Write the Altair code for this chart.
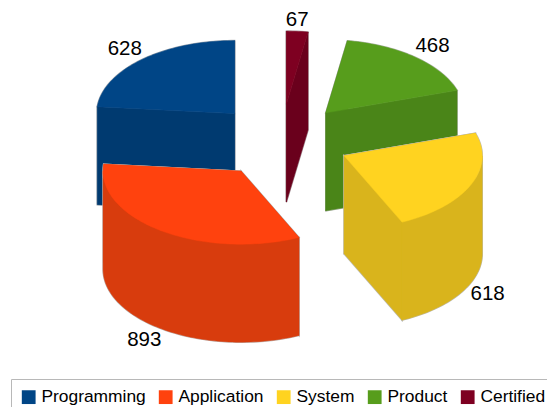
import math
import altair as alt

categories = ["Programming", "Application", "System", "Product", "Certified"]
values = [628, 893, 618, 468, 67]
top_colors = ["#004586", "#ff420e", "#ffd320", "#579d1c", "#7e0021"]
side_colors = ["#003a70", "#d83c0d", "#d9b41c", "#4a8518", "#6a001c"]
draw_order = ["Programming", "Certified", "Product", "Application", "System"]

# layout of the tilted pie, in chart pixels
CX, CY = 273, 133
RX, RY = 138, 73
EX, EY = 69, 37
DEPTH = 98
OUTLINE = "#bdbdbd"

total = sum(values)
slices = {}
angle = 90.0
for name, value, top, side in zip(categories, values, top_colors, side_colors):
    sweep = 360.0 * value / total
    slices[name] = dict(name=name, value=value, top=top, side=side, a0=angle, a1=angle + sweep)
    angle += sweep


def rim(ax, ay, deg):
    r = math.radians(deg)
    return (ax + RX * math.cos(r), ay - RY * math.sin(r))


def arc(ax, ay, a0, a1, dy=0):
    n = max(2, int(abs(a1 - a0) / 1.5) + 1)
    pts = []
    for i in range(n + 1):
        x, y = rim(ax, ay, a0 + (a1 - a0) * i / n)
        pts.append((x, y + dy))
    return pts


def faces(s):
    mid = math.radians((s["a0"] + s["a1"]) / 2)
    ax = CX + EX * math.cos(mid)
    ay = CY - EY * math.sin(mid)
    out = []
    for a in (s["a1"], s["a0"]):
        x, y = rim(ax, ay, a)
        out.append(([(ax, ay), (x, y), (x, y + DEPTH), (ax, ay + DEPTH)], s["side"]))
    lo, hi = max(s["a0"], 180.0), min(s["a1"], 360.0)
    if hi > lo:
        out.append((arc(ax, ay, lo, hi) + arc(ax, ay, hi, lo, DEPTH), s["side"]))
    out.append(([(ax, ay)] + arc(ax, ay, s["a0"], s["a1"]), s["top"]))
    return out, ax, ay, mid


features = []
labels = []
for name in draw_order:
    s = slices[name]
    fs, ax, ay, mid = faces(s)
    for stroke_pass in (True, False):
        for pts, color in fs:
            ring = [[round(x, 2), round(y, 2)] for x, y in pts]
            ring.append(ring[0])
            features.append({
                "type": "Feature",
                "geometry": {"type": "Polygon", "coordinates": [ring]},
                "properties": {
                    "fill": color,
                    "stroke": OUTLINE if stroke_pass else color,
                    "sw": 1.6 if stroke_pass else 0.5,
                },
            })
    cx, sy = math.cos(mid), math.sin(mid)
    px, py = ax + RX * cx, ay - RY * sy + (DEPTH if sy < 0 else 0)
    labels.append({
        "x": px + (17 if cx > 0.3 else -17 if cx < -0.3 else 0),
        "y": py + (11 if sy < 0 else -11),
        "label": str(s["value"]),
    })

W, H = 539, 399

shapes = alt.Chart(alt.Data(values=features)).mark_geoshape().encode(
    fill=alt.Fill("properties.fill:N", scale=None),
    stroke=alt.Stroke("properties.stroke:N", scale=None),
    strokeWidth=alt.StrokeWidth("properties.sw:Q", scale=None),
).project(type="identity", scale=1, translate=[0, 0])

text = alt.Chart(alt.Data(values=labels)).mark_text(
    font="Liberation Sans", fontSize=20.5, color="black", baseline="middle", align="center"
).encode(
    x=alt.X("x:Q", scale=alt.Scale(domain=[0, W], range=[0, W]), axis=None),
    y=alt.Y("y:Q", scale=alt.Scale(domain=[0, H], range=[0, H]), axis=None),
    text="label:N",
)

legend_rows = [{"name": n} for n in categories]
legend = alt.Chart(alt.Data(values=legend_rows)).mark_square(size=0, opacity=0).encode(
    color=alt.Color(
        "name:N",
        scale=alt.Scale(domain=categories, range=top_colors),
        sort=categories,
        legend=alt.Legend(
            title=None,
            orient="none",
            legendX=3,
            legendY=371,
            direction="horizontal",
            columns=5,
            symbolType="square",
            symbolSize=190,
            symbolOpacity=1,
            symbolStrokeWidth=0,
            labelFont="Liberation Sans",
            labelFontSize=17.4,
            labelColor="black",
            labelOffset=4,
            labelLimit=200,
            columnPadding=11,
            padding=9,
            strokeColor="#b8b8b8",
            fillColor="white",
        ),
    ),
)

chart = alt.layer(shapes, text, legend).resolve_scale(color="independent").properties(
    width=W,
    height=H,
    padding=0,
    background="white",
    autosize=alt.AutoSizeParams(type="none"),
).configure_view(strokeWidth=0, stroke="transparent")

chart.save("out.html", embed_options={"renderer": "svg", "actions": False})
